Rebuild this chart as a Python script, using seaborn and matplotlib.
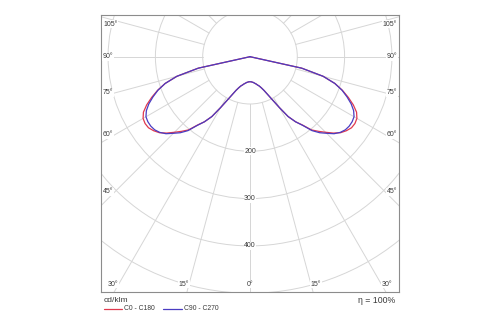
import numpy as np
import pandas as pd
import matplotlib
matplotlib.use("Agg")
import matplotlib.pyplot as plt
import seaborn as sns
from matplotlib.patches import Circle
from matplotlib.lines import Line2D

# ---------------- data (cd/klm) ----------------
gamma = [0, 2.5, 5, 7.5, 10, 12.5, 15, 17.5, 20, 22.5, 25, 27.5, 30, 32.5, 35,
         37.5, 40, 42.5, 45, 47.5, 50, 52.5, 55, 57.5, 60, 62.5, 65, 67.5, 70,
         72.5, 75, 77.5, 80, 90, 100, 110, 120, 130, 140, 150, 160, 170, 180]
c0_c180 = [53, 53, 54, 55, 57, 59, 62, 65, 70, 77, 88, 103, 124, 150, 168,
           182, 202, 214, 226, 239, 250, 257, 262, 263, 261, 254, 241, 225, 208,
           188, 160, 112, 0, 0, 0, 0, 0, 0, 0, 0, 0, 0, 0]
c90_c270 = [53, 53, 54, 55, 57, 59, 62, 65, 70, 77, 88, 103, 124, 150, 168,
            183, 204, 218, 229, 241, 249, 254, 256, 256, 254, 247, 236, 222, 207,
            188, 160, 112, 0, 0, 0, 0, 0, 0, 0, 0, 0, 0, 0]
series_names = ["C0 - C180", "C90 - C270"]
series_colors = ["#e0394e", "#4a3cc2"]
ring_values = [100, 200, 300, 400, 500, 600]
ring_labels = [200, 300, 400]
radial_angles = list(range(0, 181, 15))
angle_labels = [0, 15, 30, 45, 60, 75, 90, 105]
unit_label = "cd/klm"
eta_label = "\u03b7 = 100%"

# ---------------- style ----------------
sns.set_style("white")
plt.rcParams['font.family'] = ['Liberation Sans', 'DejaVu Sans']
TXT = "#3a3a3a"
GRID = "#d6d6d6"

W, H = 500, 325
fig = plt.figure(figsize=(W / 100, H / 100), dpi=100)

# plot box in pixels, and polar centre / scale
L, R, T, B = 100.5, 399.0, 15.0, 292.0
cx, cy = 250.0, 56.7
scale = 0.473  # px per cd/klm

ax = fig.add_axes([L / W, 1 - B / H, (R - L) / W, (B - T) / H])
ax.set_xlim((L - cx) / scale, (R - cx) / scale)
ax.set_ylim(-(B - cy) / scale, (cy - T) / scale)
ax.set_xticks([])
ax.set_yticks([])
for s in ax.spines.values():
    s.set_color("#8c8c8c")
    s.set_linewidth(0.8)

# rings
for r in ring_values:
    ax.add_patch(Circle((0, 0), r, fill=False, ec=GRID, lw=0.7, zorder=1))
# radial lines
for a in radial_angles:
    ar = np.radians(a)
    for side in (-1, 1):
        ax.plot([side * 100 * np.sin(ar), side * 900 * np.sin(ar)],
                [-100 * np.cos(ar), -900 * np.cos(ar)],
                color=GRID, lw=0.7, zorder=1)

# curves
g = np.radians(np.array(gamma, dtype=float))
for name, vals, col in zip(series_names, [c0_c180, c90_c270], series_colors):
    v = np.array(vals, dtype=float)
    xl = -v[::-1] * np.sin(g[::-1])
    yl = -v[::-1] * np.cos(g[::-1])
    xr = v * np.sin(g)
    yr = -v * np.cos(g)
    df = pd.DataFrame({"x": np.concatenate([xl, xr]),
                       "y": np.concatenate([yl, yr])})
    sns.lineplot(data=df, x="x", y="y", sort=False, estimator=None,
                 color=col, lw=0.9, ax=ax, legend=False, zorder=3)
ax.set_xlabel("")
ax.set_ylabel("")

bb = dict(fc="white", ec="none", pad=0.4)
# ring labels
for r in ring_labels:
    ax.text(0, -r, str(r), ha="center", va="center", fontsize=5, color=TXT,
            bbox=bb, zorder=4)

# angle labels
ybot = -(284 - cy) / scale
d_side = (cx - 115) / scale
ymax = (cy - 24) / scale
for a in angle_labels:
    ar = np.radians(a)
    txt = f"{a}\u00b0"
    if (B - cy) * np.tan(ar) < (cx - L) and a < 90:
        xb = -ybot * np.tan(ar)
        if a == 0:
            ax.text(0, ybot, txt, ha="center", va="center", fontsize=5,
                    color=TXT, bbox=bb, zorder=4)
        else:
            ax.text(-xb, ybot, txt, ha="right", va="center", fontsize=5,
                    color=TXT, bbox=bb, zorder=4)
            ax.text(xb, ybot, txt, ha="left", va="center", fontsize=5,
                    color=TXT, bbox=bb, zorder=4)
    else:
        y = -d_side * np.cos(ar) / np.sin(ar)
        y = min(y, ymax)
        ax.text((103 - cx) / scale, y, txt, ha="left", va="center",
                fontsize=5, color=TXT, bbox=bb, zorder=4)
        ax.text((397 - cx) / scale, y, txt, ha="right", va="center",
                fontsize=5, color=TXT, bbox=bb, zorder=4)

# bottom texts / legend
def fx(px):
    return px / W

def fy(py):
    return 1 - py / H

fig.text(fx(104), fy(300.7), unit_label, ha="left", va="center", fontsize=6,
         color=TXT)
fig.text(fx(395.5), fy(300.7), eta_label, ha="right", va="center", fontsize=6.3,
         color=TXT)
leg_x = [(104, 121.7, 124.3), (163.3, 181.7, 184.3)]
for (x0, x1, xt), name, col in zip(leg_x, series_names, series_colors):
    fig.add_artist(Line2D([fx(x0), fx(x1)], [fy(309), fy(309)], color=col,
                          lw=0.9, transform=fig.transFigure))
    fig.text(fx(xt), fy(309), name, ha="left", va="center", fontsize=4.9,
             color=TXT)

fig.savefig("out.png", dpi=100)
